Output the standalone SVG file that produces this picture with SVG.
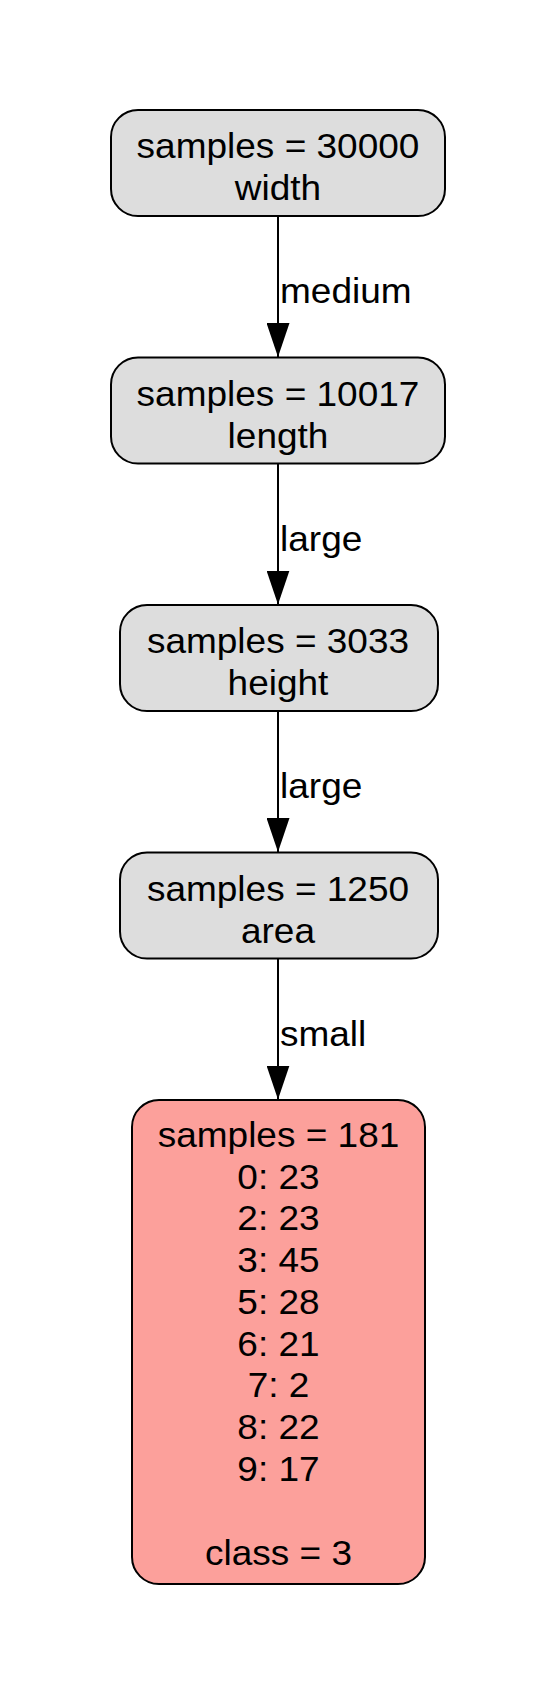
<svg xmlns="http://www.w3.org/2000/svg" width="556" height="1695" viewBox="0 0 556 1695">
<style>
.box{stroke:#000;stroke-width:2}
.gray{fill:#dddddd}
.pink{fill:#fca09b}
text{font-family:"Liberation Sans",Arial,Helvetica,sans-serif;font-size:35px;fill:#000}
.c{text-anchor:middle}
.edge{stroke:#000;stroke-width:2;fill:none}
</style>
<defs>
<marker id="arr" markerUnits="userSpaceOnUse" markerWidth="34" markerHeight="23" refX="34" refY="11.5" orient="auto" viewBox="0 0 34 23">
<path d="M0,0 L34,11.5 L0,23 z" fill="#000"/>
</marker>
</defs>
<rect width="556" height="1695" fill="#fff"/>
<g id="edges">
<line class="edge" x1="278" y1="216" x2="278" y2="357" marker-end="url(#arr)"/>
<text x="280" y="303" textLength="131.6" lengthAdjust="spacingAndGlyphs">medium</text>
<line class="edge" x1="278" y1="463.5" x2="278" y2="604.5" marker-end="url(#arr)"/>
<text x="280" y="550.5" textLength="82.3" lengthAdjust="spacingAndGlyphs">large</text>
<line class="edge" x1="278" y1="711" x2="278" y2="852" marker-end="url(#arr)"/>
<text x="280" y="798" textLength="82.3" lengthAdjust="spacingAndGlyphs">large</text>
<line class="edge" x1="278" y1="958.5" x2="278" y2="1099.5" marker-end="url(#arr)"/>
<text x="280" y="1045.5" textLength="86.3" lengthAdjust="spacingAndGlyphs">small</text>
</g>
<g id="node1">
<rect class="box gray" x="111" y="110" width="334" height="106" rx="27" ry="27"/>
<text class="c" x="278" y="158.3" textLength="282.8" lengthAdjust="spacingAndGlyphs">samples = 30000</text>
<text class="c" x="278" y="200" textLength="86.4" lengthAdjust="spacingAndGlyphs">width</text>
</g>
<g id="node2">
<rect class="box gray" x="111" y="357.5" width="334" height="106" rx="27" ry="27"/>
<text class="c" x="278" y="405.8" textLength="282.8" lengthAdjust="spacingAndGlyphs">samples = 10017</text>
<text class="c" x="278" y="447.5" textLength="100.8" lengthAdjust="spacingAndGlyphs">length</text>
</g>
<g id="node3">
<rect class="box gray" x="120" y="605" width="318" height="106" rx="27" ry="27"/>
<text class="c" x="278" y="653.3" textLength="262.2" lengthAdjust="spacingAndGlyphs">samples = 3033</text>
<text class="c" x="278" y="695" textLength="100.8" lengthAdjust="spacingAndGlyphs">height</text>
</g>
<g id="node4">
<rect class="box gray" x="120" y="852.5" width="318" height="106" rx="27" ry="27"/>
<text class="c" x="278" y="900.8" textLength="262.2" lengthAdjust="spacingAndGlyphs">samples = 1250</text>
<text class="c" x="278" y="942.5" textLength="74" lengthAdjust="spacingAndGlyphs">area</text>
</g>
<g id="node5">
<rect class="box pink" x="132" y="1100" width="293" height="484" rx="27" ry="27"/>
<text class="c" x="278.5" y="1146.7" textLength="241.6" lengthAdjust="spacingAndGlyphs">samples = 181</text>
<text class="c" x="278.5" y="1188.5" textLength="82.3" lengthAdjust="spacingAndGlyphs">0: 23</text>
<text class="c" x="278.5" y="1230.2" textLength="82.3" lengthAdjust="spacingAndGlyphs">2: 23</text>
<text class="c" x="278.5" y="1272" textLength="82.3" lengthAdjust="spacingAndGlyphs">3: 45</text>
<text class="c" x="278.5" y="1313.8" textLength="82.3" lengthAdjust="spacingAndGlyphs">5: 28</text>
<text class="c" x="278.5" y="1355.6" textLength="82.3" lengthAdjust="spacingAndGlyphs">6: 21</text>
<text class="c" x="278.5" y="1397.4" textLength="61.7" lengthAdjust="spacingAndGlyphs">7: 2</text>
<text class="c" x="278.5" y="1439.2" textLength="82.3" lengthAdjust="spacingAndGlyphs">8: 22</text>
<text class="c" x="278.5" y="1481" textLength="82.3" lengthAdjust="spacingAndGlyphs">9: 17</text>
<text class="c" x="278.5" y="1564.5" textLength="147" lengthAdjust="spacingAndGlyphs">class = 3</text>
</g>
</svg>
